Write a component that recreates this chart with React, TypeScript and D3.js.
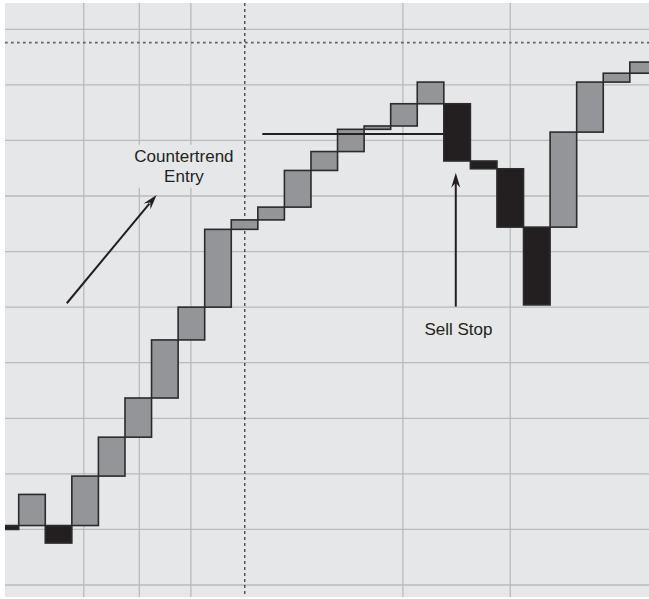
import React from "react";
import * as d3 from "d3";

// Box (three-line-break style) data: [open, close] in price units
const boxOpen = [10.7, 10.7, 10.7, 10.7, 19.6, 26.6, 33.65, 44.1, 50.0, 64.0, 65.7, 68.0, 74.6, 78.0, 82.0, 82.6, 86.6, 86.6, 76.3, 74.9, 64.4, 64.4, 81.5, 90.5, 92.1];
const boxClose = [10.0, 16.3, 7.55, 19.6, 26.6, 33.65, 44.1, 50.0, 64.0, 65.7, 68.0, 74.6, 78.0, 82.0, 82.6, 86.6, 90.5, 76.3, 74.9, 64.4, 50.4, 81.5, 90.5, 92.1, 94.1];

// Grid positions (in box-index and price units)
const vGridIdx = [3.45, 5.54, 7.48, 15.46, 19.5];
const hGridVals = [0, 10, 20, 30, 40, 50, 60, 70, 80, 90, 100];
const entryIdx = 9.51;
const topDottedVal = 97.6;
const stopLine = { from: 10.17, to: 17, value: 81.15 };

// Annotations
const ctArrow = { x0: 2.81, y0: 50.7, x1: 6.19, y1: 70.2 };
const ssArrow = { x0: 17.45, y0: 50.1, x1: 17.45, y1: 74.2 };
const ctLabel = ["Countertrend", "Entry"];
const ctLabelPos = { x: 7.22, y: 76.07 };
const ssLabel = "Sell Stop";
const ssLabelPos = { x: 17.55, y: 44.99 };

const W = 649;
const H = 599;
const plot = { left: 5, top: 3, right: 649, bottom: 597 };

export default function App() {
  const x = d3.scaleLinear().domain([0, 1]).range([-7.87, -7.87 + 26.57]);
  const y = d3.scaleLinear().domain([0, 100]).range([585, 29.3]);

  const bg = "#e6e7e8";
  const grid = "#b9babc";
  const grayFill = "#939598";
  const darkFill = "#231f20";
  const stroke = "#2b2b2b";

  const arrowHead = (x0: number, y0: number, x1: number, y1: number) => {
    const ang = Math.atan2(y1 - y0, x1 - x0);
    const len = 15;
    const hw = 4.5;
    const notch = 10;
    const ux = Math.cos(ang), uy = Math.sin(ang);
    const px = -uy, py = ux;
    const bx = x1 - ux * len, by = y1 - uy * len;
    const nx = x1 - ux * notch, ny = y1 - uy * notch;
    const p = d3.path();
    p.moveTo(x1, y1);
    p.lineTo(bx + px * hw, by + py * hw);
    p.lineTo(nx, ny);
    p.lineTo(bx - px * hw, by - py * hw);
    p.closePath();
    return p.toString();
  };

  const cta = { x0: x(ctArrow.x0), y0: y(ctArrow.y0), x1: x(ctArrow.x1), y1: y(ctArrow.y1) };
  const ssa = { x0: x(ssArrow.x0), y0: y(ssArrow.y0), x1: x(ssArrow.x1), y1: y(ssArrow.y1) };

  const font = "'Liberation Sans', Arial, Helvetica, sans-serif";

  return (
    <svg width={W} height={H} style={{ position: "absolute", left: 0, top: 0, display: "block" }}>
      <defs>
        <clipPath id="plotclip">
          <rect x={plot.left} y={plot.top} width={plot.right - plot.left} height={plot.bottom - plot.top} />
        </clipPath>
      </defs>
      <rect x={0} y={0} width={W} height={H} fill="#ffffff" />
      <g clipPath="url(#plotclip)">
        <rect x={plot.left} y={plot.top} width={plot.right - plot.left} height={plot.bottom - plot.top} fill={bg} />
        {hGridVals.map((v) => (
          <line key={"h" + v} x1={plot.left} x2={plot.right} y1={y(v)} y2={y(v)} stroke={grid} strokeWidth={1.3} />
        ))}
        {vGridIdx.map((v) => (
          <line key={"v" + v} x1={x(v)} x2={x(v)} y1={plot.top} y2={plot.bottom} stroke={grid} strokeWidth={1.3} />
        ))}
        <line x1={plot.left} x2={plot.right} y1={y(topDottedVal)} y2={y(topDottedVal)} stroke="#5f6062" strokeWidth={1.6} strokeDasharray="2.6,3.4" />
        <line x1={x(entryIdx)} x2={x(entryIdx)} y1={plot.top} y2={plot.bottom} stroke="#231f20" strokeWidth={1.1} strokeDasharray="3,3" />
        {/* label mask */}
        <rect x={128} y={y(ctLabelPos.y) - 17.5} width={108} height={43} fill={bg} />
        {boxOpen.map((o, i) => {
          const c = boxClose[i];
          const up = c > o;
          const top = y(Math.max(o, c));
          const bot = y(Math.min(o, c));
          return (
            <rect
              key={"b" + i}
              x={x(i)}
              y={top}
              width={x(i + 1) - x(i)}
              height={bot - top}
              fill={up ? grayFill : darkFill}
              stroke={stroke}
              strokeWidth={1.6}
            />
          );
        })}
        <line x1={x(stopLine.from)} x2={x(stopLine.to)} y1={y(stopLine.value)} y2={y(stopLine.value)} stroke="#231f20" strokeWidth={2} />
        {/* arrows */}
        <line x1={cta.x0} y1={cta.y0} x2={cta.x1 - (cta.x1 - cta.x0) * 0.08} y2={cta.y1 - (cta.y1 - cta.y0) * 0.08} stroke="#231f20" strokeWidth={2} />
        <path d={arrowHead(cta.x0, cta.y0, cta.x1, cta.y1)} fill="#231f20" />
        <line x1={ssa.x0} y1={ssa.y0} x2={ssa.x1} y2={ssa.y1 + 8} stroke="#231f20" strokeWidth={2} />
        <path d={arrowHead(ssa.x0, ssa.y0, ssa.x1, ssa.y1)} fill="#231f20" />
        {/* labels */}
        <text x={x(ctLabelPos.x)} y={y(ctLabelPos.y)} textAnchor="middle" fontFamily={font} fontSize={17} fill="#231f20">
          {ctLabel[0]}
        </text>
        <text x={x(ctLabelPos.x)} y={y(ctLabelPos.y) + 19.4} textAnchor="middle" fontFamily={font} fontSize={17} fill="#231f20">
          {ctLabel[1]}
        </text>
        <text x={x(ssLabelPos.x)} y={y(ssLabelPos.y)} textAnchor="middle" fontFamily={font} fontSize={17} fill="#231f20">
          {ssLabel}
        </text>
      </g>
    </svg>
  );
}
